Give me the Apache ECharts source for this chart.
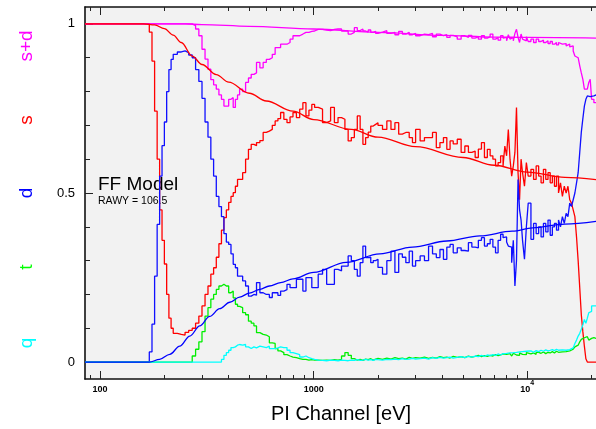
<!DOCTYPE html>
<html lang="en">
<head>
<meta charset="UTF-8" />
<title>FF Model</title>
<script src="https://cdn.jsdelivr.net/npm/echarts@6/dist/echarts.min.js"></script>
<style>html,body{margin:0;padding:0;background:#fff;}</style>
</head>
<body>
<div id="main" style="width:596px;height:429px"></div>
<script type="text/javascript">
// bin left edges (PI channel, eV)
var energy = [
  85, 150, 170, 175, 180, 185, 190, 195, 200, 205,
  210, 215, 220, 230, 240, 250, 260, 270, 280, 290,
  300, 310, 320, 330, 340, 350, 360, 370, 380, 390,
  400, 410, 420, 430, 440, 450, 465, 480, 495, 510,
  525, 540, 560, 580, 600, 620, 640, 660, 680, 700,
  725, 750, 775, 800, 830, 860, 890, 920, 950, 980,
  1010, 1050, 1100, 1150, 1200, 1250, 1300, 1350, 1400, 1450,
  1500, 1550, 1600, 1650, 1700, 1750, 1800, 1850, 1900, 1950,
  2000, 2100, 2200, 2300, 2400, 2500, 2600, 2700, 2800, 2900,
  3000, 3150, 3300, 3450, 3600, 3750, 3900, 4050, 4200, 4350,
  4500, 4700, 4900, 5100, 5300, 5500, 5700, 5900, 6100, 6300,
  6500, 6700, 6900, 7100, 7300, 7500, 7700, 7850, 8000, 8150,
  8300, 8450, 8600, 8750, 8900, 9050, 9200, 9350, 9500, 9700,
  9900, 10100, 10400, 10700, 11000, 11300, 11600, 11900, 12200, 12500,
  12800, 13100, 13400, 13700, 14000, 14300, 14600, 14900, 15200, 15500,
  15800, 16100, 16400, 16700, 17000, 17300, 17600, 17900, 18200, 18500,
  18800, 19100, 19400, 19700, 20000, 20500, 21000, 22000
];

// s (red)
var sHist = [
  1, 1, 0.976, 0.89, 0.742, 0.60, 0.45, 0.36, 0.29, 0.2,
  0.13, 0.1, 0.085, 0.082, 0.08, 0.088, 0.094, 0.1, 0.115, 0.136,
  0.166, 0.2, 0.225, 0.26, 0.279, 0.31, 0.35, 0.39, 0.427, 0.45,
  0.472, 0.49, 0.501, 0.52, 0.54, 0.54, 0.56, 0.6, 0.629, 0.644,
  0.64, 0.649, 0.655, 0.679, 0.683, 0.688, 0.7, 0.713, 0.72, 0.738,
  0.718, 0.708, 0.725, 0.738, 0.723, 0.748, 0.767, 0.728, 0.745, 0.762,
  0.753, 0.748, 0.708, 0.713, 0.753, 0.708, 0.723, 0.718, 0.688, 0.654,
  0.664, 0.688, 0.728, 0.688, 0.644, 0.664, 0.68, 0.698, 0.703, 0.708,
  0.7, 0.688, 0.713, 0.688, 0.708, 0.674, 0.679, 0.679, 0.664, 0.649,
  0.688, 0.654, 0.664, 0.664, 0.679, 0.634, 0.649, 0.664, 0.629, 0.654,
  0.645, 0.659, 0.62, 0.639, 0.62, 0.624, 0.605, 0.63, 0.649, 0.605,
  0.629, 0.61, 0.6, 0.58, 0.59, 0.61, 0.58, 0.639, 0.61, 0.688,
  0.6, 0.55, 0.58, 0.62, 0.753, 0.56, 0.48, 0.6, 0.56, 0.52,
  0.59, 0.55, 0.57, 0.54, 0.58, 0.55, 0.53, 0.57, 0.54, 0.56,
  0.53, 0.55, 0.52, 0.55, 0.5, 0.53, 0.49, 0.52, 0.5, 0.52,
  0.48, 0.47, 0.45, 0.43, 0.37, 0.3, 0.22, 0.14, 0.09, 0.047,
  0.01, 0, 0, 0, 0, 0, 0, 0
];

// d (blue)
var dHist = [
  0, 0, 0.03, 0.112, 0.254, 0.407, 0.55, 0.64, 0.71, 0.8,
  0.865, 0.895, 0.91, 0.917, 0.92, 0.915, 0.908, 0.9, 0.865, 0.83,
  0.78, 0.71, 0.665, 0.6, 0.55, 0.49, 0.46, 0.43, 0.38, 0.355,
  0.348, 0.32, 0.289, 0.279, 0.254, 0.254, 0.24, 0.225, 0.195, 0.2,
  0.198, 0.235, 0.205, 0.2, 0.2, 0.191, 0.205, 0.205, 0.197, 0.21,
  0.214, 0.23, 0.22, 0.22, 0.245, 0.245, 0.21, 0.25, 0.25, 0.22,
  0.22, 0.26, 0.274, 0.23, 0.23, 0.274, 0.27, 0.284, 0.284, 0.314,
  0.3, 0.274, 0.254, 0.294, 0.343, 0.309, 0.31, 0.294, 0.3, 0.304,
  0.28, 0.26, 0.3, 0.328, 0.265, 0.32, 0.31, 0.294, 0.328, 0.284,
  0.3, 0.314, 0.3, 0.343, 0.32, 0.309, 0.333, 0.304, 0.34, 0.348,
  0.323, 0.338, 0.33, 0.328, 0.353, 0.34, 0.338, 0.36, 0.368, 0.343,
  0.35, 0.363, 0.34, 0.323, 0.36, 0.378, 0.368, 0.37, 0.355, 0.343,
  0.34, 0.294, 0.36, 0.225, 0.3, 0.54, 0.45, 0.42, 0.36, 0.304,
  0.4, 0.47, 0.363, 0.41, 0.38, 0.4, 0.37, 0.41, 0.385, 0.42,
  0.375, 0.4, 0.41, 0.39, 0.42, 0.4, 0.43, 0.41, 0.44, 0.43,
  0.47, 0.46, 0.48, 0.5, 0.53, 0.56, 0.62, 0.68, 0.72, 0.757,
  0.777, 0.787, 0.785, 0.79, 0.787, 0.79, 0.788, 0.788
];

// s+d (magenta)
var sdHist = [
  1, 1, 1, 1, 1, 1, 1, 1, 1, 1,
  1, 1, 1, 1, 1, 1, 1, 0.995, 0.985, 0.965,
  0.925, 0.896, 0.866, 0.835, 0.82, 0.807, 0.79, 0.777, 0.757, 0.757,
  0.777, 0.782, 0.753, 0.777, 0.79, 0.807, 0.8, 0.827, 0.84, 0.851,
  0.855, 0.886, 0.87, 0.886, 0.895, 0.9, 0.91, 0.93, 0.93, 0.94,
  0.94, 0.945, 0.955, 0.965, 0.965, 0.97, 0.975, 0.975, 0.978, 0.979,
  0.984, 0.984, 0.982, 0.98, 0.984, 0.985, 0.985, 0.979, 0.979, 0.97,
  0.975, 0.989, 0.98, 0.985, 0.979, 0.976, 0.982, 0.975, 0.978, 0.972,
  0.976, 0.98, 0.972, 0.975, 0.968, 0.978, 0.97, 0.975, 0.968, 0.972,
  0.965, 0.97, 0.968, 0.972, 0.962, 0.97, 0.965, 0.968, 0.96, 0.966,
  0.962, 0.955, 0.965, 0.96, 0.966, 0.958, 0.962, 0.955, 0.965, 0.958,
  0.962, 0.97, 0.955, 0.96, 0.952, 0.965, 0.958, 0.96, 0.95, 0.968,
  0.955, 0.96, 0.95, 0.972, 0.984, 0.96, 0.945, 0.97, 0.955, 0.95,
  0.962, 0.948, 0.955, 0.945, 0.955, 0.948, 0.952, 0.945, 0.95, 0.942,
  0.948, 0.94, 0.945, 0.938, 0.945, 0.94, 0.935, 0.942, 0.935, 0.94,
  0.932, 0.935, 0.92, 0.905, 0.9, 0.895, 0.876, 0.855, 0.836, 0.807,
  0.807, 0.81, 0.827, 0.836, 0.777, 0.767, 0.77, 0.77
];

// t (green)
var tHist = [
  0, 0, 0, 0, 0, 0, 0, 0, 0, 0,
  0, 0, 0, 0, 0, 0, 0, 0.018, 0.038, 0.06,
  0.09, 0.136, 0.161, 0.186, 0.2, 0.215, 0.225, 0.23, 0.225, 0.225,
  0.205, 0.21, 0.19, 0.171, 0.165, 0.161, 0.146, 0.14, 0.121, 0.115,
  0.107, 0.087, 0.082, 0.08, 0.075, 0.057, 0.055, 0.04, 0.033, 0.028,
  0.022, 0.018, 0.015, 0.013, 0.01, 0.008, 0.008, 0.006, 0.007, 0.006,
  0.006, 0.005, 0.006, 0.005, 0.007, 0.006, 0.008, 0.018, 0.028, 0.02,
  0.01, 0.006, 0.008, 0.005, 0.009, 0.007, 0.01, 0.006, 0.009, 0.011,
  0.008, 0.012, 0.009, 0.013, 0.01, 0.012, 0.009, 0.014, 0.011, 0.013,
  0.012, 0.015, 0.011, 0.014, 0.012, 0.016, 0.013, 0.015, 0.012, 0.017,
  0.014, 0.016, 0.013, 0.018, 0.015, 0.017, 0.02, 0.016, 0.019, 0.017,
  0.02, 0.018, 0.022, 0.019, 0.021, 0.024, 0.02, 0.023, 0.019, 0.025,
  0.022, 0.018, 0.026, 0.021, 0.024, 0.02, 0.027, 0.023, 0.026, 0.022,
  0.028, 0.024, 0.027, 0.023, 0.029, 0.026, 0.03, 0.025, 0.029, 0.027,
  0.031, 0.027, 0.032, 0.029, 0.033, 0.03, 0.034, 0.031, 0.036, 0.033,
  0.037, 0.038, 0.04, 0.045, 0.05, 0.052, 0.06, 0.067, 0.072, 0.077,
  0.075, 0.07, 0.065, 0.07, 0.072, 0.07, 0.072, 0.072
];

// q (cyan)
var qHist = [
  0, 0, 0, 0, 0, 0, 0, 0, 0, 0,
  0, 0, 0, 0, 0, 0, 0, 0, 0, 0,
  0, 0, 0, 0, 0, 0, 0, 0.008, 0.02, 0.028,
  0.035, 0.043, 0.045, 0.05, 0.052, 0.05, 0.052, 0.045, 0.04, 0.045,
  0.042, 0.047, 0.045, 0.043, 0.047, 0.04, 0.04, 0.042, 0.045, 0.043,
  0.043, 0.035, 0.028, 0.025, 0.022, 0.015, 0.018, 0.013, 0.01, 0.008,
  0.006, 0.005, 0.004, 0.006, 0.005, 0.004, 0.006, 0.005, 0.004, 0.006,
  0.005, 0.007, 0.005, 0.006, 0.008, 0.006, 0.007, 0.005, 0.008, 0.007,
  0.006, 0.008, 0.007, 0.009, 0.007, 0.01, 0.008, 0.009, 0.011, 0.009,
  0.01, 0.012, 0.009, 0.013, 0.011, 0.014, 0.012, 0.013, 0.015, 0.012,
  0.014, 0.016, 0.013, 0.017, 0.015, 0.018, 0.016, 0.02, 0.017, 0.021,
  0.019, 0.022, 0.02, 0.024, 0.021, 0.025, 0.022, 0.026, 0.023, 0.027,
  0.024, 0.028, 0.025, 0.029, 0.026, 0.03, 0.027, 0.031, 0.028, 0.032,
  0.03, 0.033, 0.029, 0.034, 0.031, 0.035, 0.032, 0.036, 0.033, 0.035,
  0.037, 0.034, 0.038, 0.035, 0.039, 0.036, 0.038, 0.035, 0.04, 0.037,
  0.04, 0.042, 0.047, 0.055, 0.065, 0.077, 0.085, 0.097, 0.11, 0.126,
  0.115, 0.13, 0.146, 0.15, 0.166, 0.166, 0.17, 0.17
];

// model curves
var sModelE = [85, 160, 180, 200, 220, 240, 270, 300, 350, 400, 500, 600, 800, 1000, 1500, 2000, 3000, 5000, 7000, 10000, 15000, 22000];
var sModel = [1, 1, 0.997, 0.986, 0.967, 0.945, 0.905, 0.88, 0.85, 0.828, 0.795, 0.772, 0.742, 0.717, 0.688, 0.665, 0.637, 0.605, 0.582, 0.562, 0.546, 0.538];
var dModelE = [85, 170, 190, 212, 236, 263, 293, 326, 363, 405, 450, 500, 560, 620, 700, 800, 1000, 1420, 2040, 2900, 4200, 6000, 8500, 10600, 15000, 22000];
var dModel = [0, 0, 0.008, 0.023, 0.047, 0.077, 0.107, 0.135, 0.158, 0.177, 0.192, 0.204, 0.215, 0.225, 0.235, 0.246, 0.265, 0.295, 0.32, 0.34, 0.358, 0.373, 0.387, 0.397, 0.408, 0.418];
var sdModelE = [85, 250, 300, 500, 1000, 2000, 4000, 7000, 10000, 22000];
var sdModel = [1, 1, 0.998, 0.993, 0.985, 0.975, 0.966, 0.961, 0.96, 0.958];

// axis ticks
var xMajor = [100, 1000, 10000];
var xMinor = [90, 200, 300, 400, 500, 600, 700, 800, 900, 2000, 3000, 4000, 5000, 6000, 7000, 8000, 9000, 20000];
var yMajor = [0, 0.5, 1];
var yMinor = [0.1, 0.2, 0.3, 0.4, 0.6, 0.7, 0.8, 0.9];

var font = "'Liberation Sans', Arial, sans-serif";
var xMin = 85, xMax = 20970, yMin = -0.05, yMax = 1.05;
var frame = { color: "#111", width: 1.6 };

function pairs(xs, ys) {
  return xs.map(function (x, i) { return [x, ys[i]]; });
}

function xAx(pos, ticks, len, labels, line) {
  return {
    type: "log", logBase: 10, position: pos, min: xMin, max: xMax,
    axisLine: { show: line, onZero: false, lineStyle: frame },
    splitLine: { show: false },
    axisTick: { show: true, inside: true, length: len, customValues: ticks,
      lineStyle: { color: "#222", width: 1 } },
    axisLabel: labels ? {
      show: true, customValues: xMajor, margin: 1,
      formatter: function (v) {
        if (v > 9000) return "{b|10}{s|4}";
        return "{b|" + Math.round(v) + "}";
      },
      rich: {
        b: { fontSize: 9, fontWeight: "bold", fontFamily: font, color: "#000", lineHeight: 14, verticalAlign: "bottom" },
        s: { fontSize: 7, fontWeight: "bold", fontFamily: font, color: "#000", lineHeight: 7, verticalAlign: "top" }
      }
    } : { show: false }
  };
}

function yAx(ticks, len, labels, line) {
  return {
    type: "value", min: yMin, max: yMax, position: "left",
    axisLine: { show: line, onZero: false, lineStyle: frame },
    splitLine: { show: false },
    axisTick: { show: true, inside: true, length: len, customValues: ticks,
      lineStyle: { color: "#222", width: 1 } },
    axisLabel: labels ? {
      show: true, customValues: yMajor, margin: 10,
      fontSize: 13, fontFamily: font, color: "#000"
    } : { show: false }
  };
}

function hist(name, data, color) {
  return {
    name: name, type: "line", step: "end", data: pairs(energy, data),
    showSymbol: false, symbol: "none", animation: false,
    lineStyle: { color: color, width: 1.3 }
  };
}

function model(name, xs, ys, color) {
  return {
    name: name, type: "line", smooth: 0.35, smoothMonotone: "x", data: pairs(xs, ys),
    showSymbol: false, symbol: "none", animation: false,
    lineStyle: { color: color, width: 1.3 }
  };
}

var sideLabels = [
  { text: "s+d", color: "#ff00ff", y: 46 },
  { text: "s", color: "#ff0000", y: 120 },
  { text: "d", color: "#0000ff", y: 193 },
  { text: "t", color: "#00ff00", y: 267 },
  { text: "q", color: "#00ffff", y: 343 }
];

var graphics = sideLabels.map(function (l) {
  return {
    type: "text", x: 27, y: l.y, rotation: Math.PI / 2,
    style: { text: l.text, fill: l.color, fontSize: 19, fontFamily: font,
      align: "center", verticalAlign: "middle", textAlign: "center", textVerticalAlign: "middle" }
  };
});
graphics.push(
  { type: "text", x: 98, y: 185, style: { text: "FF Model", fill: "#000", fontSize: 19, fontFamily: font,
    align: "left", verticalAlign: "middle", textAlign: "left", textVerticalAlign: "middle" } },
  { type: "text", x: 98, y: 201, style: { text: "RAWY = 106.5", fill: "#000", fontSize: 10.5, fontFamily: font,
    align: "left", verticalAlign: "middle", textAlign: "left", textVerticalAlign: "middle" } },
  { type: "text", x: 341, y: 414, style: { text: "PI Channel [eV]", fill: "#000", fontSize: 20, fontFamily: font,
    align: "center", verticalAlign: "middle", textAlign: "center", textVerticalAlign: "middle" } }
);

var myChart = echarts.init(document.getElementById("main"));
var option = {
  animation: false,
  backgroundColor: "#fff",
  grid: { left: 85, top: 7, right: 0, bottom: 50, show: true,
    backgroundColor: "#f2f2f2", borderWidth: 0 },
  xAxis: [
    xAx("bottom", xMajor, 8, true, true),
    xAx("bottom", xMinor, 4, false, false),
    xAx("top", xMajor, 8, false, true),
    xAx("top", xMinor, 4, false, false)
  ],
  yAxis: [yAx(yMajor, 8, true, true), yAx(yMinor, 5, false, false)],
  series: [
    hist("s+d", sdHist, "#ff00ff"),
    hist("s", sHist, "#ff0000"),
    hist("d", dHist, "#1010ff"),
    hist("t", tHist, "#00ee00"),
    hist("q", qHist, "#00ffff"),
    model("s+d model", sdModelE, sdModel, "#ff00ff"),
    model("s model", sModelE, sModel, "#ff0000"),
    model("d model", dModelE, dModel, "#0000ff")
  ],
  graphic: graphics
};
myChart.setOption(option);
</script>
</body>
</html>
